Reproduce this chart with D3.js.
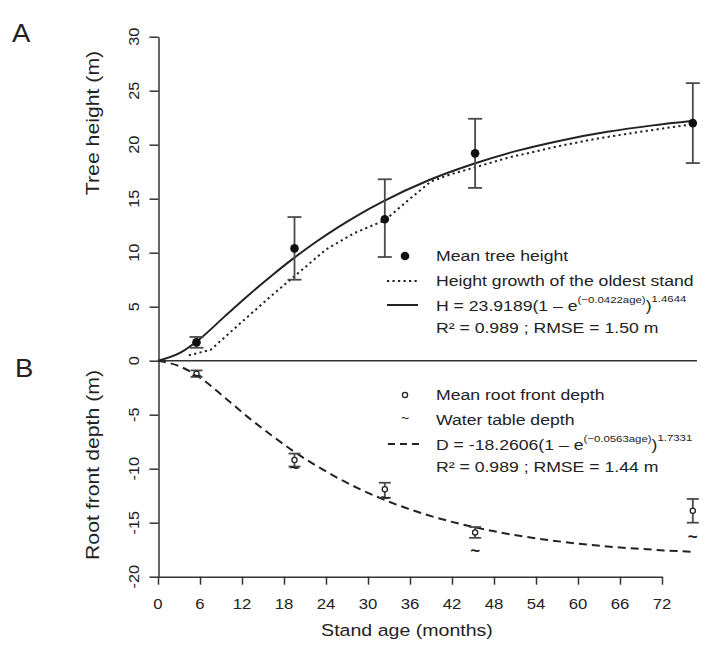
<!DOCTYPE html>
<html>
<head>
<meta charset="utf-8">
<script src="https://cdn.jsdelivr.net/npm/d3@7"></script>
<style>
  html, body { margin: 0; padding: 0; background: #fff; }
  svg { display: block; }
  text { font-family: "Liberation Sans", Arial, Helvetica, sans-serif; fill: #222; }
</style>
</head>
<body>
<svg id="chart" width="710" height="647"></svg>
<script>
// Axis ticks
const ticksX = [0, 6, 12, 18, 24, 30, 36, 42, 48, 54, 60, 66, 72];
const ticksY = [-20, -15, -10, -5, 0, 5, 10, 15, 20, 25, 30];

// Stand measurements (one entry per stand)
const standAge = [5.5, 19.5, 32.4, 45.3, 76.4];
const heightMean = [1.7, 10.4, 13.1, 19.2, 22.0];
const heightLow = [1.2, 7.5, 9.6, 16.0, 18.3];
const heightHigh = [2.2, 13.3, 16.8, 22.4, 25.7];
const rootMean = [-1.2, -9.2, -11.9, -15.9, -13.9];
const rootLow = [-1.5, -9.8, -12.7, -16.4, -15.0];
const rootHigh = [-0.9, -8.6, -11.3, -15.4, -12.8];
const waterTable = [-1.4, -9.9, -12.7, -17.6, -16.3];

// Height growth of the oldest stand (stem analysis)
const oldestAge = [4.4, 7.5, 12, 16, 20, 24, 28, 32.4, 36, 39, 42, 45.3, 50, 57.5, 63, 70, 76.4];
const oldestHeight = [0.5, 1.0, 3.6, 5.9, 8.1, 10.3, 11.8, 13.0, 15.0, 16.6, 17.3, 17.9, 18.8, 19.9, 20.6, 21.3, 21.9];

// Fitted growth curves
const fitAge = [0, 3.2, 6.4, 9.6, 12.8, 16.1, 19.3, 22.5, 25.7, 28.9, 32.1, 38.5, 45.0, 51.4, 57.8, 64.2, 70.7, 76.5];
const fitHeight = [0, 0.75, 2.25, 4.15, 6.0, 7.8, 9.45, 10.97, 12.35, 13.60, 14.73, 16.66, 18.21, 19.45, 20.42, 21.19, 21.79, 22.22];
const fitDepth = [0, -0.55, -1.75, -3.45, -5.2, -6.85, -8.36, -9.68, -10.87, -11.91, -12.82, -14.29, -15.39, -16.19, -16.77, -17.20, -17.50, -17.70];

const INK = "#222";
const BAR = "#4a4a4a";
const FONT_STRETCH = 1.2;

const svg = d3.select("#chart");

const x = d3.scaleLinear().domain([0, 72]).range([158, 662]);
const y = d3.scaleLinear().domain([-20, 30]).range([576.7, 36.7]);

// text helper: wide glyphs, optional rotation
function label(px, py, str, size, opts = {}) {
  const g = svg.append("g")
    .attr("transform", `translate(${px},${py}) rotate(${opts.rotate || 0}) scale(${opts.stretch || FONT_STRETCH},1)`);
  const t = g.append("text")
    .attr("font-size", size)
    .attr("text-anchor", opts.anchor || "start")
    .attr("dominant-baseline", opts.baseline || "central");
  if (str !== null) t.text(str);
  return t;
}

// ---- axes ----
const xAxis = d3.axisBottom(x).tickValues(ticksX).tickSize(8).tickSizeOuter(0).tickFormat("");
const gx = svg.append("g").attr("transform", `translate(0,${y(-20)})`).call(xAxis);
const yAxis = d3.axisLeft(y).tickValues(ticksY).tickSize(9).tickSizeOuter(0).tickFormat("");
const gy = svg.append("g").attr("transform", "translate(158.5,0)").call(yAxis);
[gx, gy].forEach(g => {
  g.selectAll("path, line").attr("stroke", "#333").attr("stroke-width", 1.5);
});

ticksX.forEach(v => label(x(v), 603, String(v), 15.5, { anchor: "middle", stretch: 1.08 }));
ticksY.forEach(v => label(134, y(v), String(v), 15.5, { anchor: "middle", rotate: -90, stretch: 1.05 }));

label(407, 631, "Stand age (months)", 16.3, { anchor: "middle" });
label(93, 123, "Tree height (m)", 17.7, { anchor: "middle", rotate: -90 });
label(93, 465, "Root front depth (m)", 17.7, { anchor: "middle", rotate: -90 });

label(12, 42, "A", 25, { baseline: "alphabetic", stretch: 1.1 });
label(15, 377, "B", 25, { baseline: "alphabetic", stretch: 1.1 });

// zero line separating the two panels
svg.append("line")
  .attr("x1", x(0)).attr("x2", x(77)).attr("y1", y(0)).attr("y2", y(0))
  .attr("stroke", "#333").attr("stroke-width", 1.5);

// ---- curves ----
const fitLine = (vals) => d3.line()
  .x((d, i) => x(fitAge[i]))
  .y((d) => y(d))
  .curve(d3.curveMonotoneX)(vals);

svg.append("path")
  .attr("d", d3.line().x((d, i) => x(oldestAge[i])).y(d => y(d))(oldestHeight))
  .attr("fill", "none").attr("stroke", INK).attr("stroke-width", 2)
  .attr("stroke-dasharray", "2.2,3.3");

svg.append("path")
  .attr("d", fitLine(fitHeight))
  .attr("fill", "none").attr("stroke", INK).attr("stroke-width", 2);

svg.append("path")
  .attr("d", fitLine(fitDepth))
  .attr("fill", "none").attr("stroke", INK).attr("stroke-width", 2)
  .attr("stroke-dasharray", "8,5");

// ---- error bars ----
function errorBars(lo, hi, capHalf) {
  const g = svg.append("g").attr("stroke", BAR).attr("stroke-width", 1.8).attr("fill", "none");
  standAge.forEach((a, i) => {
    const cx = x(a);
    g.append("line").attr("x1", cx).attr("x2", cx).attr("y1", y(lo[i])).attr("y2", y(hi[i]));
    g.append("line").attr("x1", cx - capHalf).attr("x2", cx + capHalf).attr("y1", y(lo[i])).attr("y2", y(lo[i]));
    g.append("line").attr("x1", cx - capHalf).attr("x2", cx + capHalf).attr("y1", y(hi[i])).attr("y2", y(hi[i]));
  });
}
errorBars(heightLow, heightHigh, 7);
errorBars(rootLow, rootHigh, 6);

// ---- points ----
svg.append("g").selectAll("circle")
  .data(heightMean).join("circle")
  .attr("cx", (d, i) => x(standAge[i])).attr("cy", d => y(d))
  .attr("r", 4.3).attr("fill", "#111");

svg.append("g").selectAll("circle")
  .data(rootMean).join("circle")
  .attr("cx", (d, i) => x(standAge[i])).attr("cy", d => y(d))
  .attr("r", 2.6).attr("fill", "#fff").attr("stroke", "#222").attr("stroke-width", 1.3);

// water table marks
waterTable.forEach((d, i) => {
  svg.append("text")
    .attr("x", x(standAge[i])).attr("y", y(d))
    .attr("text-anchor", "middle").attr("dominant-baseline", "central")
    .attr("font-size", 17).attr("font-weight", "bold")
    .text("~");
});

// ---- legend, panel A ----
const LX = 436, LF = 14.7;
svg.append("circle").attr("cx", 405).attr("cy", 256).attr("r", 4.3).attr("fill", "#111");
label(LX, 256, "Mean tree height", LF);
svg.append("line").attr("x1", 387).attr("x2", 418).attr("y1", 281).attr("y2", 281)
  .attr("stroke", INK).attr("stroke-width", 2).attr("stroke-dasharray", "2.2,3.3");
label(LX, 281, "Height growth of the oldest stand", LF);
svg.append("line").attr("x1", 387).attr("x2", 418).attr("y1", 305).attr("y2", 305)
  .attr("stroke", INK).attr("stroke-width", 2);

function equation(py, lead, expo, power) {
  const t = label(LX, py + 5.2, null, LF, { baseline: "alphabetic" });
  t.append("tspan").text(lead);
  t.append("tspan").attr("font-size", 9.5).attr("dy", -8).text(expo);
  t.append("tspan").attr("dy", 8).text(")");
  t.append("tspan").attr("font-size", 9.5).attr("dy", -9).text(power);
}
equation(306, "H = 23.9189(1 \u2013 e", "(\u22120.0422age)", "1.4644");
label(LX, 328, "R\u00B2 = 0.989 ; RMSE = 1.50 m", LF);

// ---- legend, panel B ----
svg.append("circle").attr("cx", 405).attr("cy", 395).attr("r", 2.6)
  .attr("fill", "#fff").attr("stroke", "#222").attr("stroke-width", 1.3);
label(LX, 395, "Mean root front depth", LF);
svg.append("text").attr("x", 405).attr("y", 418).attr("text-anchor", "middle")
  .attr("dominant-baseline", "central").attr("font-size", 14).text("~");
label(LX, 420, "Water table depth", LF);
svg.append("line").attr("x1", 388).attr("x2", 422).attr("y1", 444).attr("y2", 444)
  .attr("stroke", INK).attr("stroke-width", 2).attr("stroke-dasharray", "7,5");
equation(445, "D = -18.2606(1 \u2013 e", "(\u22120.0563age)", "1.7331");
label(LX, 467, "R\u00B2 = 0.989 ; RMSE = 1.44 m", LF);
</script>
</body>
</html>
